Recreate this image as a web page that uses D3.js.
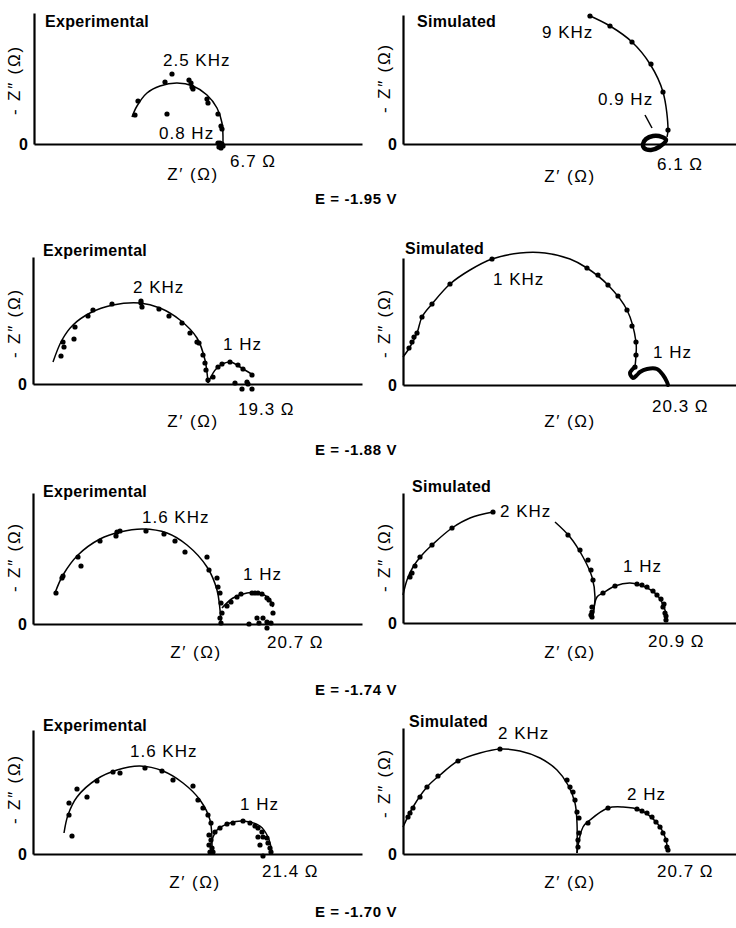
<!DOCTYPE html>
<html><head><meta charset="utf-8">
<script src="https://cdn.jsdelivr.net/npm/d3@7"></script>
<style>
html,body{margin:0;padding:0;background:#fff;}
svg{display:block;font-family:"Liberation Sans",Arial,sans-serif;}
</style></head>
<body>
<svg id="chart" width="736" height="928"></svg>
<script>
// ---------- DATA (panel-local units: Z' and -Z'', arbitrary units) ----------
const panelTitles = ["Experimental","Simulated","Experimental","Simulated","Experimental","Simulated","Experimental","Simulated"];
const potentials  = ["E = -1.95 V","E = -1.88 V","E = -1.74 V","E = -1.70 V"];
const highFreq    = ["2.5 KHz","9 KHz","2 KHz","1 KHz","1.6 KHz","2 KHz","1.6 KHz","2 KHz"];
const lowFreq     = ["0.8 Hz","0.9 Hz","1 Hz","1 Hz","1 Hz","1 Hz","1 Hz","2 Hz"];
const endRes      = ["6.7 Ω","6.1 Ω","19.3 Ω","20.3 Ω","20.7 Ω","20.9 Ω","21.4 Ω","20.7 Ω"];
const yTicks      = [0];

// Panel 1 – Experimental, E=-1.95 V
const p1Fit = [[98,27],[103,38],[113,51],[126,58],[143,61],[159,58],[173,49],[183,36],[188,21],[189,1]];
const p1Pts = [[101,29],[104,43],[131,62],[138,70],[133,30],[155,64],[157,61],[158,57],[159,55],[173,45],[174,41],
               [184,30],[187,18],[188,15],[186,1],[184,1],[186,-1],[188,0],[185,-3],[187,-4],[189,-2]];
// Panel 2 – Simulated, E=-1.95 V
const p2Fit = [[185,129],[207,118],[229,102],[247,80],[260,52],[265,14],[264,7]];
const p2Pts = [[187,128],[207,118],[229,102],[248,80],[260,52],[265,14]];
const p2Loop = [[240,0],[243,5],[250,8],[259,7],[263,4],[256,-3],[248,-6],[241,-4]];
const p2Pointer = [[242,29],[249,16]];
// Panel 3 – Experimental, E=-1.88 V
const p3Fit = [[20,22],[29,44],[40,59],[57,71],[80,79],[107,81],[127,76],[147,64],[164,46],[172,24],[175,1]];
const p3Fit2 = [[175,1],[184,16],[197,22],[207,17],[220,9]];
const p3Pts = [[28,28],[30,42],[31,37],[41,45],[42,57],[55,68],[60,74],[79,80],[108,83],[108,81],[109,77],[126,75],
               [136,68],[149,61],[157,51],[164,42],[166,41],[170,29],[173,14],[172,21],[175,4],[180,7],[185,17],[189,20],
               [197,22],[205,19],[210,15],[219,9],[202,1],[209,-5],[214,2],[215,0],[219,-5]];
// Panel 4 – Simulated, E=-1.88 V
const p4Fit = [[0,28],[7,38],[14,52],[19,68],[29,81],[47,101],[67,115],[89,126],[117,132],[142,132],[167,126],
               [184,117],[205,100],[224,75],[233,43],[233,30],[232,18]];
const p4Tail = [[232,18],[227,12],[230,7],[234,10],[237,13],[244,16],[254,16],[260,10],[264,3],[265,0]];
const p4Pts = [[6,37],[9,43],[11,48],[14,52],[19,68],[29,81],[47,101],[89,126],[184,117],[195,110],[205,100],
               [215,89],[224,75],[229,59],[233,43],[233,30],[232,18]];
// Panel 5 – Experimental, E=-1.74 V
const p5Fit = [[22,31],[30,49],[45,69],[67,85],[87,92],[110,95],[134,91],[154,79],[174,57],[184,34],[188,1]];
const p5Fit2 = [[189,16],[200,26],[214,31],[227,31],[237,24],[240,17]];
const p5Pts = [[23,31],[29,46],[30,48],[45,67],[48,58],[67,83],[83,88],[84,92],[87,93],[113,93],[131,90],[142,83],
               [152,72],[174,67],[176,54],[184,46],[185,37],[187,31],[188,21],[189,11],[187,6],[188,1],
               [194,18],[198,22],[204,27],[208,30],[219,31],[222,31],[225,31],[229,30],[234,26],[236,24],[239,20],[240,11],
               [216,0],[224,6],[226,1],[230,6],[234,2],[234,-4],[238,1]];
// Panel 6 – Simulated, E=-1.74 V
const p6Fit = [[0,28],[4,43],[10,56],[19,68],[29,78],[49,95],[67,105],[90,111]];
const p6Fit2 = [[152,101],[167,86],[180,66],[189,46],[192,26],[190,8]];
const p6Fit3 = [[190,8],[194,26],[200,30],[212,37],[227,40],[240,37],[254,28],[262,13],[264,1]];
const p6Pts = [[7,46],[9,50],[12,57],[17,66],[29,78],[49,95],[90,111],[165,88],[177,73],[185,63],[188,53],[190,43],
               [189,16],[189,11],[189,6],[188,8],[200,30],[212,37],[234,39],[239,38],[244,36],[250,32],[254,28],
               [258,24],[260,16],[262,10],[263,3],[261,19],[263,7]];
// Panel 7 – Experimental, E=-1.70 V
const p7Fit = [[31,21],[35,39],[44,57],[64,75],[84,84],[107,88],[130,83],[150,71],[167,54],[177,34],[179,2]];
const p7Fit2 = [[177,7],[184,24],[197,31],[210,33],[227,28],[235,17],[239,2]];
const p7Pts = [[39,18],[36,39],[36,51],[44,65],[54,57],[64,73],[80,82],[87,81],[112,86],[129,83],[140,74],[160,68],
               [165,54],[170,46],[175,39],[178,31],[176,19],[178,14],[176,9],[179,6],[177,2],[180,2],
               [182,22],[187,26],[194,30],[200,31],[210,33],[217,31],[222,28],[225,26],[229,22],[230,17],[234,16],
               [235,11],[237,6],[238,2],[225,17],[227,9],[230,-2]];
// Panel 8 – Simulated, E=-1.70 V
const p8Fit = [[0,27],[10,47],[24,67],[37,79],[55,93],[77,101],[97,105],[117,103],[137,96],[154,84],[165,69],[172,51],[174,31],[174,1]];
const p8Fit2 = [[174,1],[180,27],[187,34],[205,46],[220,47],[237,44],[254,31],[262,17],[265,2]];
const p8Pts = [[5,37],[7,41],[10,46],[17,57],[24,67],[35,78],[55,93],[97,105],[164,74],[167,67],[170,62],[172,54],
               [174,42],[176,36],[176,21],[175,14],[175,7],[185,31],[205,46],[234,45],[239,43],[244,41],[249,37],
               [253,32],[257,27],[260,21],[263,14],[264,7],[265,4]];

// ---------- LAYOUT ----------
const panels = [
 {ox:34, oy:144, top:13,  xEnd:362, fits:[p1Fit], pts:p1Pts, thick:[], loop:null, pointer:null,
  title:[45,27], hf:[163,66], lf:[159,139], er:[230,167], zx:193, zy:180, yl:[14,80]},
 {ox:403,oy:144, top:15,  xEnd:736, fits:[p2Fit], pts:p2Pts, thick:[], loop:p2Loop, pointer:p2Pointer,
  title:[417,27], hf:[542,38], lf:[598,105], er:[657,170], zx:570, zy:182, yl:[384,78]},
 {ox:33, oy:384, top:257, xEnd:362, fits:[p3Fit,p3Fit2], pts:p3Pts, thick:[], loop:null, pointer:null,
  title:[43,256], hf:[133,293], lf:[223,350], er:[238,415], zx:193, zy:427, yl:[14,323]},
 {ox:403,oy:385, top:258, xEnd:736, fits:[p4Fit], pts:p4Pts, thick:[p4Tail], loop:null, pointer:null,
  title:[405,254], hf:[493,285], lf:[653,358], er:[652,412], zx:570, zy:427, yl:[384,323]},
 {ox:33, oy:624, top:493, xEnd:362, fits:[p5Fit,p5Fit2], pts:p5Pts, thick:[], loop:null, pointer:null,
  title:[43,497], hf:[142,523], lf:[243,580], er:[267,648], zx:196, zy:658, yl:[14,557]},
 {ox:403,oy:623, top:493, xEnd:736, fits:[p6Fit,p6Fit2,p6Fit3], pts:p6Pts, thick:[], loop:null, pointer:null,
  title:[412,492], hf:[500,517], lf:[623,572], er:[648,647], zx:570, zy:658, yl:[384,557]},
 {ox:33, oy:854, top:730, xEnd:362, fits:[p7Fit,p7Fit2], pts:p7Pts, thick:[], loop:null, pointer:null,
  title:[43,731], hf:[130,757], lf:[240,810], er:[262,877], zx:195, zy:888, yl:[14,789]},
 {ox:403,oy:854, top:728, xEnd:736, fits:[p8Fit,p8Fit2], pts:p8Pts, thick:[], loop:null, pointer:null,
  title:[409,727], hf:[498,739], lf:[627,800], er:[657,877], zx:570, zy:888, yl:[384,783]}
];
const potentialPos = [[356,204],[356,455],[356,695],[356,917]];

const svg = d3.select("#chart");
const FS = 17;

panels.forEach((p,i)=>{
  const x = d3.scaleLinear().domain([0, p.xEnd - p.ox]).range([p.ox, p.xEnd]);
  const y = d3.scaleLinear().domain([0, p.oy - p.top]).range([p.oy, p.top]);
  const g = svg.append("g");

  // axes
  const xa = g.append("g").attr("transform",`translate(0,${p.oy})`)
    .call(d3.axisBottom(x).tickValues([]).tickSize(0).tickSizeOuter(0));
  xa.select(".domain").attr("stroke","#000").attr("stroke-width",2.2);
  const ya = g.append("g").attr("transform",`translate(${p.ox},0)`)
    .call(d3.axisLeft(y).tickValues(yTicks).tickSize(0).tickSizeOuter(0).tickPadding(6).tickFormat(d3.format("d")));
  ya.select(".domain").attr("stroke","#000").attr("stroke-width",2.2);
  ya.selectAll("text").attr("font-size",16).attr("font-weight","bold").attr("fill","#000")
    .attr("font-family","Liberation Sans, Arial, sans-serif");

  const line = d3.line().x(d=>x(d[0])).y(d=>y(d[1])).curve(d3.curveCatmullRom.alpha(0.5));
  p.fits.forEach(f=>{
    g.append("path").attr("d",line(f)).attr("fill","none").attr("stroke","#000").attr("stroke-width",1.5);
  });
  p.thick.forEach(f=>{
    g.append("path").attr("d",line(f)).attr("fill","none").attr("stroke","#000").attr("stroke-width",4)
      .attr("stroke-linejoin","round").attr("stroke-linecap","round");
  });
  if(p.loop){
    const cl = d3.line().x(d=>x(d[0])).y(d=>y(d[1])).curve(d3.curveCatmullRomClosed);
    g.append("path").attr("d",cl(p.loop)).attr("fill","none").attr("stroke","#000").attr("stroke-width",4.5);
  }
  if(p.pointer){
    g.append("path").attr("d",d3.line().x(d=>x(d[0])).y(d=>y(d[1]))(p.pointer))
      .attr("stroke","#000").attr("stroke-width",1.5).attr("fill","none");
  }
  g.selectAll("circle.pt").data(p.pts).join("circle").attr("class","pt")
    .attr("cx",d=>x(d[0])).attr("cy",d=>y(d[1])).attr("r",2.6).attr("fill","#000");

  // texts
  g.append("text").attr("x",p.title[0]).attr("y",p.title[1]).attr("font-size",16).attr("font-weight","bold")
    .attr("letter-spacing",0.3).text(panelTitles[i]);
  g.append("text").attr("x",p.hf[0]).attr("y",p.hf[1]).attr("font-size",FS).attr("letter-spacing",1).text(highFreq[i]);
  g.append("text").attr("x",p.lf[0]).attr("y",p.lf[1]).attr("font-size",FS).attr("letter-spacing",1).text(lowFreq[i]);
  g.append("text").attr("x",p.er[0]).attr("y",p.er[1]).attr("font-size",FS).attr("letter-spacing",1).text(endRes[i]);
  g.append("text").attr("x",p.zx).attr("y",p.zy).attr("text-anchor","middle").attr("font-size",FS)
    .attr("letter-spacing",1.5).text("Z\u2032 (\u03A9)");
  g.append("text").attr("transform",`translate(${p.yl[0]+6},${p.yl[1]}) rotate(-90)`).attr("text-anchor","middle")
    .attr("font-size",FS).attr("letter-spacing",1.8).text("- Z\u2033 (\u03A9)");
});

potentials.forEach((t,i)=>{
  svg.append("text").attr("x",potentialPos[i][0]).attr("y",potentialPos[i][1]).attr("text-anchor","middle")
    .attr("font-size",15).attr("font-weight","bold").attr("letter-spacing",0.6).text(t);
});
</script>
</body></html>
